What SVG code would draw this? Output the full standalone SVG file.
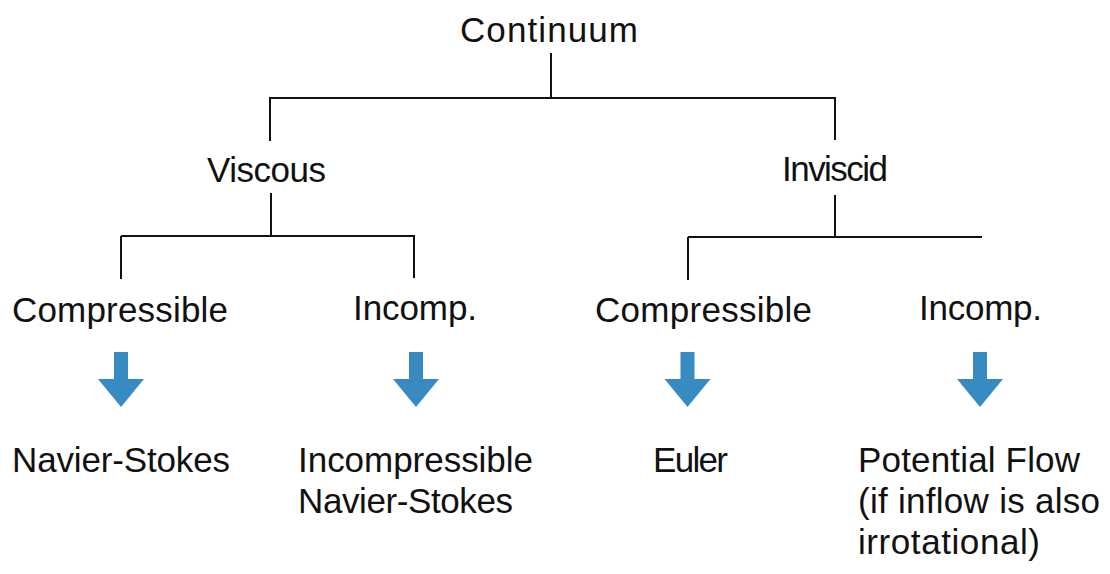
<svg xmlns="http://www.w3.org/2000/svg" width="1110" height="574" viewBox="0 0 1110 574">
<style>
.t{font-family:"Liberation Sans",Arial,sans-serif;font-size:35px;fill:#111}
.c{stroke:#111;stroke-width:2;fill:none;stroke-linecap:butt}
.a{fill:#378BC1}
</style>
<defs>
<polygon id="arr" points="-7,0 7,0 7,27 23,27 0,55 -23,27 -7,27"/>
</defs>
<rect width="1110" height="574" fill="#fff"/>
<g id="connectors">
<path class="c" d="M551,53V98M269,98H836M270,98V141M835,98V140"/>
<path class="c" d="M271,193V236M121,236H415M121,236V279M414,236V278"/>
<path class="c" d="M835,195V237M688,237H982M688,237V280"/>
<use href="#arr" class="a" x="121" y="352"/>
<use href="#arr" class="a" x="416" y="352"/>
<use href="#arr" class="a" x="687.5" y="352"/>
<use href="#arr" class="a" x="980" y="352"/>
</g>
<g id="continuum"><text class="t" x="460" y="42" textLength="178">Continuum</text></g>
<g id="viscous"><text class="t" x="207" y="182" textLength="119">Viscous</text></g>
<g id="inviscid"><text class="t" x="782" y="181" textLength="106">Inviscid</text></g>
<g id="v-compressible"><text class="t" x="12" y="322" textLength="216">Compressible</text></g>
<g id="v-incomp"><text class="t" x="353" y="320" textLength="124">Incomp.</text></g>
<g id="i-compressible"><text class="t" x="595" y="322" textLength="217">Compressible</text></g>
<g id="i-incomp"><text class="t" x="919" y="320" textLength="123">Incomp.</text></g>
<g id="navier-stokes"><text class="t" x="12" y="472" textLength="218">Navier-Stokes</text></g>
<g id="incompressible-ns">
<text class="t" x="298" y="472" textLength="235">Incompressible</text>
<text class="t" x="298" y="513" textLength="215">Navier-Stokes</text>
</g>
<g id="euler"><text class="t" x="653" y="472" textLength="75">Euler</text></g>
<g id="potential-flow">
<text class="t" x="858" y="472" textLength="222">Potential Flow</text>
<text class="t" x="858" y="513" textLength="242">(if inflow is also</text>
<text class="t" x="858" y="554" textLength="182">irrotational)</text>
</g>
</svg>
